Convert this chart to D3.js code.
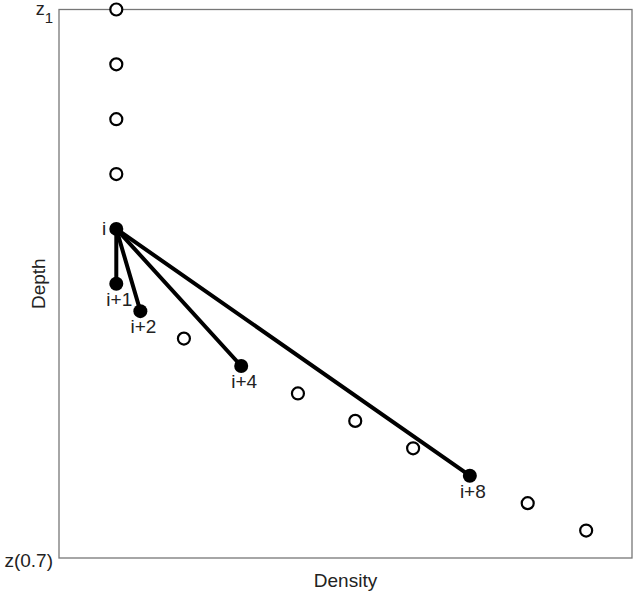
<!DOCTYPE html>
<html><head><meta charset="utf-8">
<script src="https://cdn.jsdelivr.net/npm/d3@7"></script>
<style>body{margin:0;background:#fff}text{font-family:"Liberation Sans",Arial,sans-serif;fill:#222}</style>
</head><body>
<svg id="c" width="633" height="596"></svg>
<script>
// data
const pointNames = ["p1","p2","p3","p4","i","i+1","i+2","i+3","i+4","i+5","i+6","i+7","i+8","i+9","i+10"];
const density = [1,1,1,1,1,1,1.42,2.18,3.18,4.17,5.17,6.18,7.17,8.18,9.2];
const depth   = [0,2,4,6,8,10,11,12,13,14,15,16,17,18,19];
const filled  = ["i","i+1","i+2","i+4","i+8"];
const linked  = ["i+1","i+2","i+4","i+8"];
const labelled = ["i+1","i+2","i+4","i+8"];
const yTickValues = [0,20];
const yTickLabels = [["z","1"],["z(0.7)",""]];
const xTitle = "Density", yTitle = "Depth";

const svg = d3.select("#c");
const L=59, R=632, T=9.5, B=558;
const FS = 19;
const x = d3.scaleLinear().domain([0,10]).range([L,R]);
const y = d3.scaleLinear().domain([0,20]).range([T,B]);

svg.append("rect").attr("x",L).attr("y",T).attr("width",R-L).attr("height",B-T)
  .attr("fill","none").attr("stroke","#777").attr("stroke-width",1.3);

const pts = pointNames.map((n,k)=>({n, d:density[k], z:depth[k]}));
const byName = Object.fromEntries(pts.map(p=>[p.n,p]));
const pi = byName["i"];

svg.append("g").selectAll("line").data(linked.map(n=>byName[n])).join("line")
  .attr("x1",x(pi.d)).attr("y1",y(pi.z)).attr("x2",d=>x(d.d)).attr("y2",d=>y(d.z))
  .attr("stroke","#000").attr("stroke-width",4).attr("stroke-linecap","round");

svg.append("g").selectAll("circle").data(pts).join("circle")
  .attr("cx",d=>x(d.d)).attr("cy",d=>y(d.z))
  .attr("r",d=>filled.includes(d.n)?7:6)
  .attr("fill",d=>filled.includes(d.n)?"#000":"#fff")
  .attr("stroke","#000").attr("stroke-width",d=>filled.includes(d.n)?0:2.2);

svg.append("g").selectAll("text").data(labelled.map(n=>byName[n])).join("text")
  .attr("x",d=>x(d.d)+3).attr("y",d=>y(d.z)+22)
  .attr("text-anchor","middle").attr("font-size",FS).text(d=>d.n);
svg.append("text").attr("x",x(pi.d)-10).attr("y",y(pi.z)+6)
  .attr("text-anchor","end").attr("font-size",FS).text("i");

// y tick labels
yTickValues.forEach((v,k)=>{
  const t = svg.append("text").attr("x",L-6).attr("text-anchor","end");
  if(yTickLabels[k][1]){
    t.attr("y",y(v)+5.5).attr("font-size",18);
    t.append("tspan").text(yTickLabels[k][0]);
    t.append("tspan").attr("dy",7.5).attr("font-size",15).text(yTickLabels[k][1]);
  } else {
    t.attr("y",y(v)+9).attr("font-size",FS).text(yTickLabels[k][0]);
  }
});

svg.append("text").attr("x",(L+R)/2).attr("y",587).attr("text-anchor","middle")
  .attr("font-size",FS).text(xTitle);
svg.append("text").attr("transform",`translate(45,${(T+B)/2}) rotate(-90)`)
  .attr("text-anchor","middle").attr("font-size",FS).text(yTitle);
</script>
</body></html>
